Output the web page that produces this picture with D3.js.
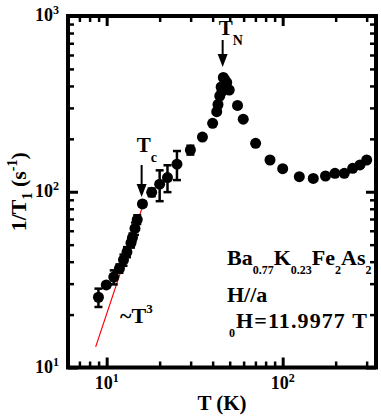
<!DOCTYPE html>
<html><head><meta charset="utf-8">
<script src="https://cdn.jsdelivr.net/npm/d3@7"></script>
<style>body{margin:0;background:#fff}svg{display:block}</style>
</head><body>
<svg id="c" width="381" height="416"></svg>
<script>
// ---- data ----
const temps = [8.98, 9.95, 10.97, 11.82, 12.46, 13.04, 13.74, 14.02, 14.48, 14.92, 15.97, 18.02, 20.0, 22.16, 25.08, 29.9, 35.0, 40.0, 42.2, 42.9, 43.9, 44.7, 45.2, 46.0, 47.0, 48.1, 49.7, 55.4, 59.7, 70.2, 84.7, 100, 124.3, 149.2, 175.1, 198.2, 223.9, 249.9, 274.9, 300.1];
const rates = [25.1, 29.5, 32.7, 36.6, 40.9, 45.4, 51.1, 54.9, 61.8, 69.5, 85.2, 99.3, 110.4, 120.5, 143.5, 172.8, 204.8, 245.2, 285.5, 313.6, 350.6, 394.5, 372, 446.7, 432, 418.5, 379.3, 309.7, 258.8, 188.7, 151.6, 135.3, 121.8, 119.0, 122.9, 127.4, 127.4, 135.9, 142.0, 151.6];
const rateErr = [3, 1, 3, 2, 3, 3, 3, 3, 5, 4, 3, 5, 22, 21, 27, 10, 0, 0, 0, 0, 0, 0, 0, 0, 0, 0, 0, 0, 0, 0, 0, 0, 0, 0, 0, 0, 0, 0, 0, 0];
const fitT = [8.66, 15.8];
const fitRate = [13.1, 79.6];
const xMajor = [10, 100];
const xMajorExp = ["1", "2"];
const xMinor = [7, 8, 9, 20, 30, 40, 50, 60, 70, 80, 90, 200, 300];
const yMajor = [10, 100, 1000];
const yMajorExp = ["1", "2", "3"];
const yMinor = [20, 30, 40, 50, 60, 70, 80, 90, 200, 300, 400, 500, 600, 700, 800, 900];
const TcT = 15.8, TNT = 45.6;

// ---- layout ----
const L = 68, R = 376, T = 16, B = 367.5;
const svg = d3.select("#c");
const font = "'Liberation Serif','Times New Roman',serif";
const x = d3.scaleLog().domain([6.03, 339]).range([L, R]);
const y = d3.scaleLog().domain([10, 1000]).range([B, T]);

// ticks (inward, mirrored)
function ax(gen, tf, vals, len, sw) {
  const g = svg.append("g").attr("transform", tf)
    .call(gen.tickValues(vals).tickSize(len).tickFormat(""));
  g.select(".domain").remove();
  g.selectAll(".tick line").attr("stroke", "#000").attr("stroke-width", sw);
}
[[xMinor, 6, 2.5], [xMajor, 10, 3]].forEach(([v, l, s]) => {
  ax(d3.axisTop(x), `translate(0,${B})`, v, l, s);
  ax(d3.axisBottom(x), `translate(0,${T})`, v, l, s);
});
[[yMinor, 6, 2.5], [yMajor, 10, 3]].forEach(([v, l, s]) => {
  ax(d3.axisRight(y), `translate(${L},0)`, v, l, s);
  ax(d3.axisLeft(y), `translate(${R},0)`, v, l, s);
});
svg.append("rect").attr("x", L).attr("y", T).attr("width", R - L).attr("height", B - T)
  .attr("fill", "none").attr("stroke", "#000").attr("stroke-width", 4);

// tick labels
xMajor.forEach((v, i) => {
  const t = svg.append("text").attr("x", x(v)).attr("y", B + 21).attr("text-anchor", "middle")
    .attr("font-family", font).attr("font-weight", "bold").attr("font-size", 18);
  t.append("tspan").text("10");
  t.append("tspan").attr("dy", -7).attr("font-size", 12).text(xMajorExp[i]);
});
yMajor.forEach((v, i) => {
  const t = svg.append("text").attr("x", 59).attr("y", y(v) + 5).attr("text-anchor", "end")
    .attr("font-family", font).attr("font-weight", "bold").attr("font-size", 18);
  t.append("tspan").text("10");
  t.append("tspan").attr("dy", -7).attr("font-size", 12).text(yMajorExp[i]);
});

// axis titles
svg.append("text").attr("x", (L + R) / 2).attr("y", 410).attr("text-anchor", "middle")
  .attr("font-family", font).attr("font-weight", "bold").attr("font-size", 21).text("T (K)");
const yt = svg.append("text").attr("transform", `translate(26,${(T + B) / 2}) rotate(-90)`)
  .attr("text-anchor", "middle").attr("font-family", font).attr("font-weight", "bold").attr("font-size", 22);
yt.append("tspan").text("1/T");
yt.append("tspan").attr("dy", 6).attr("font-size", 14).text("1");
yt.append("tspan").attr("dy", -6).text(" (s");
yt.append("tspan").attr("dy", -9).attr("font-size", 14).text("-1");
yt.append("tspan").attr("dy", 9).text(")");

// fit line
svg.append("path").datum(fitT.map((t, i) => [t, fitRate[i]]))
  .attr("d", d3.line().x(d => x(d[0])).y(d => y(d[1])))
  .attr("stroke", "red").attr("stroke-width", 1.2).attr("fill", "none");

// error bars
const pts = temps.map((t, i) => ({t, v: rates[i], e: rateErr[i]}));
const eb = svg.append("g").attr("stroke", "#000").attr("stroke-width", 2.5);
pts.filter(d => d.e > 0).forEach(d => {
  const cx = x(d.t), y0 = y(d.v - d.e), y1 = y(d.v + d.e);
  eb.append("line").attr("x1", cx).attr("x2", cx).attr("y1", y0).attr("y2", y1);
  eb.append("line").attr("x1", cx - 4).attr("x2", cx + 4).attr("y1", y0).attr("y2", y0);
  eb.append("line").attr("x1", cx - 4).attr("x2", cx + 4).attr("y1", y1).attr("y2", y1);
});
// points
svg.append("g").selectAll("circle").data(pts).join("circle")
  .attr("cx", d => x(d.t)).attr("cy", d => y(d.v)).attr("r", 5.5).attr("fill", "#000");

// arrows + labels
function arrow(xp, y0, y1) {
  svg.append("line").attr("x1", xp).attr("x2", xp).attr("y1", y0).attr("y2", y1 - 10)
    .attr("stroke", "#000").attr("stroke-width", 2);
  svg.append("path").attr("d", `M${xp - 5},${y1 - 13} L${xp + 5},${y1 - 13} L${xp},${y1} Z`).attr("fill", "#000");
}
arrow(x(TcT), 165, 197);
arrow(x(TNT), 40, 67);
function sublabel(xp, yp, main, sub, sdy) {
  const t = svg.append("text").attr("x", xp).attr("y", yp).attr("font-family", font)
    .attr("font-weight", "bold").attr("font-size", 21);
  t.append("tspan").text(main);
  t.append("tspan").attr("dy", sdy).attr("font-size", 14).text(sub);
}
sublabel(x(TcT) - 5, 152, "T", "c", 10);
sublabel(x(TNT) - 4, 35, "T", "N", 10);
const t3 = svg.append("text").attr("x", 120).attr("y", 323).attr("font-family", font)
  .attr("font-weight", "bold").attr("font-size", 22);
t3.append("tspan").text("~T");
t3.append("tspan").attr("dy", -10).attr("font-size", 13).text("3");

// composition annotation
function rich(xp, yp, parts, ls) {
  const t = svg.append("text").attr("x", xp).attr("y", yp).attr("font-family", font)
    .attr("font-weight", "bold").attr("font-size", 22).attr("letter-spacing", ls || 0);
  let off = 0;
  parts.forEach(([s, sub]) => {
    const dy = (sub ? 9 : 0) - off; off = sub ? 9 : 0;
    t.append("tspan").attr("dy", dy).attr("font-size", sub ? 12 : 22).text(s);
  });
}
rich(227, 265, [["Ba"], ["0.77", 1], ["K"], ["0.23", 1], ["Fe"], ["2", 1], ["As"], ["2", 1]]);
rich(227, 302, [["H//a"]]);
rich(229, 328, [["0", 1], ["H=11.9977 T"]], 1.1);
</script>
</body></html>
